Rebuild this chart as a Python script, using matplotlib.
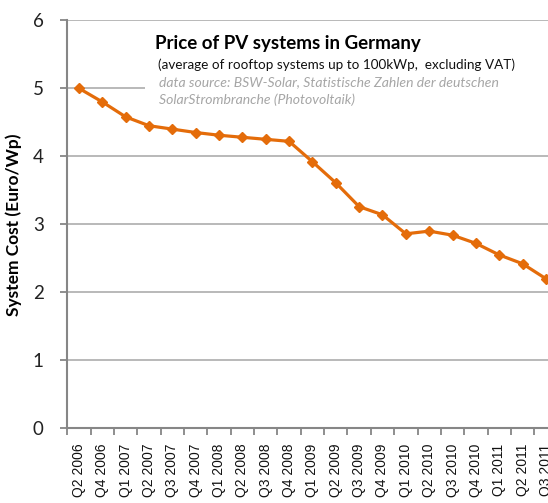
import numpy as np
import matplotlib
matplotlib.use("Agg")
import matplotlib.pyplot as plt
from matplotlib.patches import Rectangle

quarters = ["Q2 2006", "Q4 2006", "Q1 2007", "Q2 2007", "Q3 2007", "Q4 2007",
            "Q1 2008", "Q2 2008", "Q3 2008", "Q4 2008", "Q1 2009", "Q2 2009",
            "Q3 2009", "Q4 2009", "Q1 2010", "Q2 2010", "Q3 2010", "Q4 2010",
            "Q1 2011", "Q2 2011", "Q3 2011"]
price = [5.00, 4.80, 4.58, 4.45, 4.40, 4.35, 4.31, 4.28, 4.25, 4.22, 3.92,
         3.61, 3.26, 3.14, 2.86, 2.90, 2.84, 2.72, 2.55, 2.42, 2.20]
y_ticks = [0, 1, 2, 3, 4, 5, 6]

ORANGE = "#E46C0A"
GRID = "#B3B3B3"
AXIS = "#868686"

fig = plt.figure(figsize=(5.48, 5.03), dpi=100)
# the right edge of the plot area runs past the picture, as in the source
ax = fig.add_axes([0.1228, 0.1485, 0.8947, 0.8111])

x = np.arange(len(quarters))
ax.plot(x, price, color=ORANGE, lw=2.3, marker="D", ms=5, zorder=4)

ax.set_xlim(-0.5, len(quarters) - 0.5)
ax.set_ylim(0, 6)
ax.set_yticks(y_ticks)
ax.set_yticklabels([str(t) for t in y_ticks], family="Lato", fontsize=13.5,
                   color="#222222")
ax.set_xticks(x)
ax.set_xticklabels(quarters, rotation=90, family="Liberation Sans",
                   fontsize=10, color="#111111")
ax.set_xticks(np.arange(len(quarters) + 1) - 0.5, minor=True)
ax.tick_params(axis="x", which="major", length=0, pad=11)
ax.tick_params(axis="x", which="minor", length=5, width=1.3, color=AXIS)
ax.tick_params(axis="y", length=5, width=1.3, color=AXIS, pad=12)

ax.grid(axis="y", color=GRID, lw=1.3, zorder=0)
ax.set_axisbelow(True)
for s in ["top", "right"]:
    ax.spines[s].set_visible(False)
for s in ["left", "bottom"]:
    ax.spines[s].set_color(AXIS)
    ax.spines[s].set_linewidth(1.5)

ax.set_ylabel("System Cost (Euro/Wp)", family="Lato", fontweight="bold",
              fontsize=12.5, labelpad=8)

# white text box that hides the grid behind the title
ax.add_patch(Rectangle((0.158, 0.78), 0.9, 0.17, transform=ax.transAxes,
                       facecolor="white", edgecolor="none", zorder=2))

fig.text(155 / 548, 1 - 43 / 503, "Price of PV systems in Germany",
         family="Lato", fontweight="bold", fontsize=13.5, va="center")
fig.text(158 / 548, 1 - 65 / 503,
         "(average of rooftop systems up to 100kWp,  excluding VAT)",
         family="Lato", fontsize=9.7, va="center", color="#111111")
fig.text(159 / 548, 1 - 82.5 / 503,
         "data source: BSW-Solar, Statistische Zahlen der deutschen",
         family="Lato", style="italic", fontsize=10.1, va="center",
         color="#A6A6A6")
fig.text(159 / 548, 1 - 100 / 503, "SolarStrombranche (Photovoltaik)",
         family="Lato", style="italic", fontsize=10.1, va="center",
         color="#A6A6A6")

fig.savefig("out.png", dpi=100)
